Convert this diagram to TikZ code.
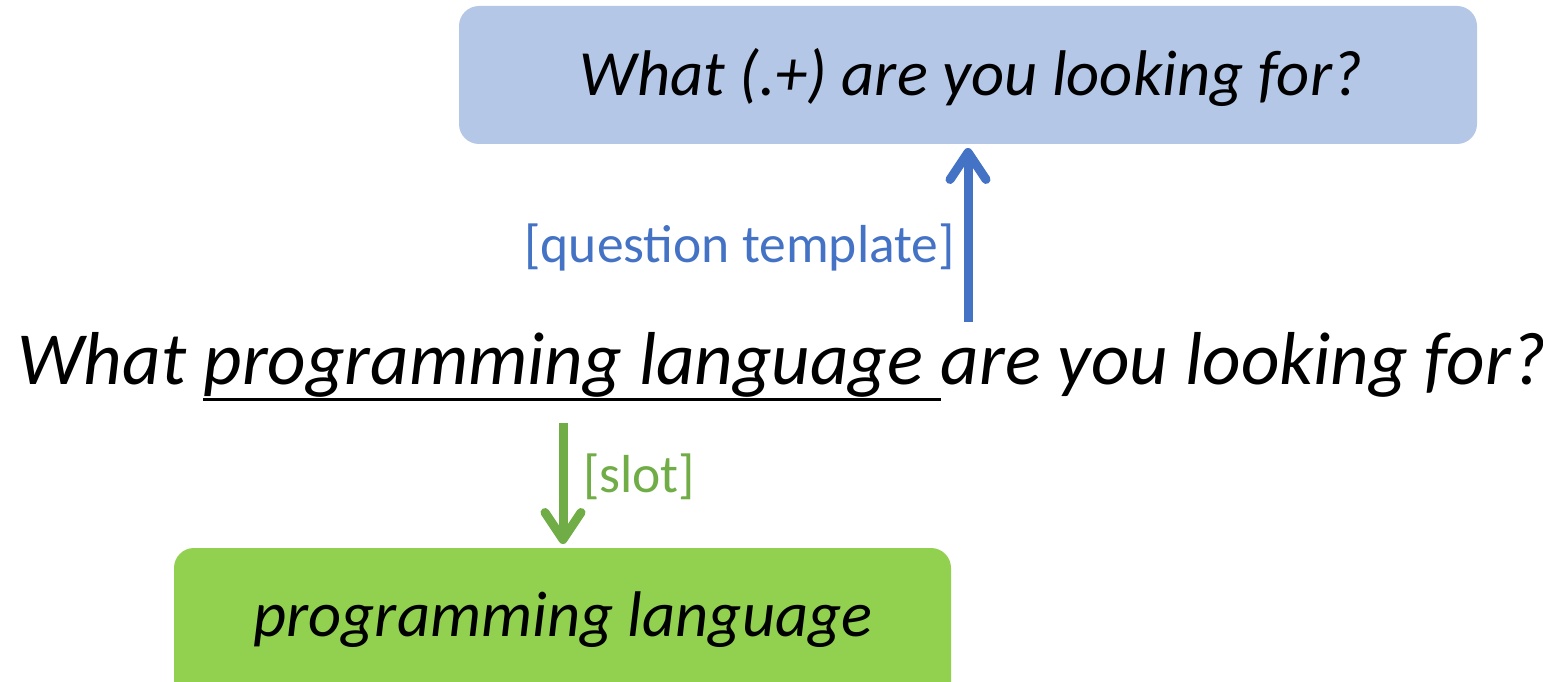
\documentclass[tikz,border=0pt]{standalone}
\usepackage{fontspec}
\setmainfont{Carlito}
\usetikzlibrary{arrows.meta}
\definecolor{boxblue}{HTML}{B4C7E7}
\definecolor{boxgreen}{HTML}{92D050}
\definecolor{arrblue}{HTML}{4472C4}
\definecolor{arrgreen}{HTML}{70AD47}
\begin{document}
\begin{tikzpicture}[x=1pt,y=-1pt,
  big/.style={font=\fontsize{75}{90}\selectfont\itshape, inner sep=0pt},
  boxtxt/.style={font=\fontsize{64.5}{78}\selectfont\itshape, inner sep=0pt},
  lbl/.style={font=\fontsize{53.5}{64}\selectfont, inner sep=0pt},
  arr/.style={line width=9pt, -{Straight Barb[length=27pt,width=36pt,line cap=round,round]}}]
\useasboundingbox (0,0) rectangle (1543,682);
\clip (0,0) rectangle (1543,682);
\fill[boxblue, rounded corners=20pt] (459,6) rectangle (1477,144);
\node[boxtxt, anchor=base] (tpl) at (971,96) {What (.+) are you looking for?};
\coordinate (tplb) at (968,148);
\fill[boxgreen, rounded corners=20pt] (174,548) rectangle (951,720);
\node[boxtxt, anchor=base] (slotbox) at (563,636) {programming language};
\coordinate (slott) at (563,544);
\node[big, anchor=base west] (m1) at (17,384) {What\kern0.226em};
\node[big, anchor=base west] (m2) at (m1.base east) {programming language\kern0.226em};
\node[big, anchor=base west] (m3) at (m2.base east) {are you looking for?};
\draw[line width=3pt] ([yshift=-15pt]m2.base west) -- ([yshift=-15pt]m2.base east);
\coordinate (bs) at (968,322);
\coordinate (gs) at (563,423);
\draw[arr, arrblue] (bs) -- (tplb);
\draw[arr, arrgreen] (gs) -- (slott);
\node[lbl, text=arrblue, anchor=base east] (ql) at (955,262) {[question template]};
\node[lbl, text=arrgreen, anchor=base west] (sl) at (583,492) {[slot]};
\end{tikzpicture}
\end{document}
